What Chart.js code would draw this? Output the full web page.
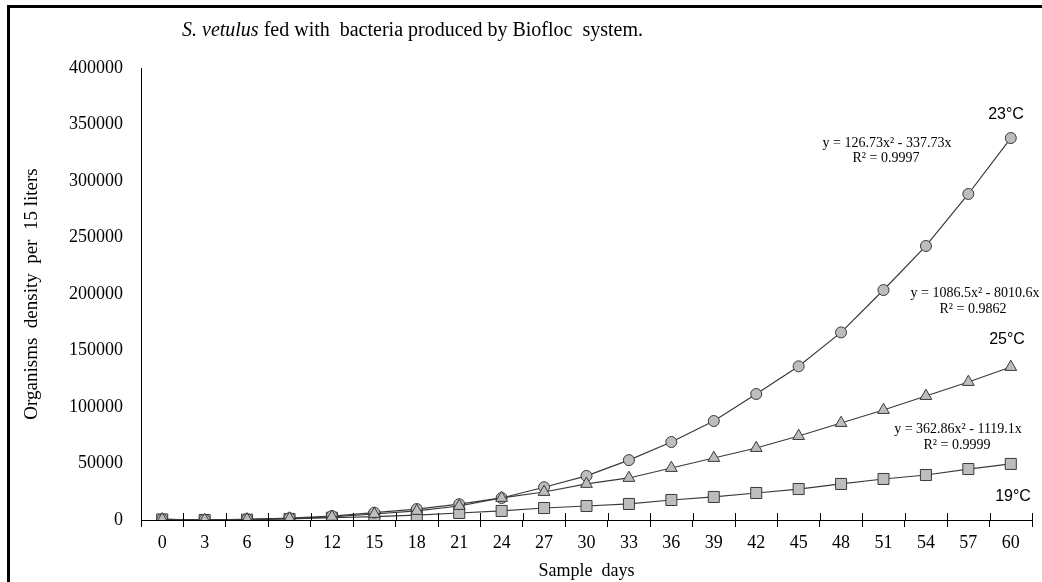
<!DOCTYPE html>
<html>
<head>
<meta charset="utf-8">
<script src="https://cdn.jsdelivr.net/npm/chart.js@4"></script>
<style>
  body { margin: 0; background: #fff; }
  #wrap { position: relative; width: 1042px; height: 582px; overflow: hidden; }
  #frame { position: absolute; left: 7px; top: 5px; width: 1100px; height: 700px;
           border-top: 3px solid #000; border-left: 3px solid #000; }
  canvas { position: absolute; left: 0; top: 0; }
</style>
</head>
<body>
<div id="wrap">
  <div id="frame"></div>
  <canvas id="densityChart" width="1042" height="582"></canvas>
</div>
<script>
// sample days (x axis categories)
const days = ['0','3','6','9','12','15','18','21','24','27','30','33','36','39','42','45','48','51','54','57','60'];

// organisms density per 15 liters
const temp23 = [500, 200, 600, 1600, 3500, 6500, 9700, 14000, 19500, 29000, 39000, 53000, 69000, 87600, 111500, 136000, 166000, 203500, 242500, 288500, 338000];
const temp25 = [500, 0, 500, 1300, 2800, 5300, 8000, 12400, 19500, 24800, 31900, 37200, 46000, 54900, 63700, 74300, 85800, 97300, 109700, 122100, 135400];
const temp19 = [500, 0, 300, 900, 2000, 3000, 4400, 6200, 8000, 10600, 12400, 14200, 17700, 20400, 23900, 27400, 31900, 36300, 39800, 45100, 49600];

const yTicks = [0, 50000, 100000, 150000, 200000, 250000, 300000, 350000, 400000];

const serif = "'Liberation Serif', 'Times New Roman', serif";
const sans = "'Liberation Sans', Arial, sans-serif";

// texts drawn on top of the chart: title, temperatures and fitted equations
const textPlugin = {
    id: 'texts',
    afterDraw(chart) {
        const ctx = chart.ctx;
        const x = chart.scales.x;
        ctx.save();
        // cross tick marks above the x axis
        ctx.strokeStyle = '#000';
        ctx.lineWidth = 1;
        const step = x.width / days.length;
        for (let i = 0; i <= days.length; i++) {
            const px = Math.round(x.left + i * step) + 0.5;
            ctx.beginPath();
            ctx.moveTo(px, x.top - 7);
            ctx.lineTo(px, x.top);
            ctx.stroke();
        }

        ctx.fillStyle = '#000';
        ctx.textBaseline = 'alphabetic';
        ctx.textAlign = 'left';
        ctx.font = 'italic 20px ' + serif;
        const part1 = 'S. vetulus';
        ctx.fillText(part1, 182, 36);
        const w = ctx.measureText(part1).width;
        ctx.font = '20px ' + serif;
        ctx.fillText(' fed with  bacteria produced by Biofloc  system.', 182 + w, 36);

        ctx.textAlign = 'center';
        ctx.textBaseline = 'middle';
        ctx.font = '16px ' + sans;
        ctx.fillText('23°C', 1006, 115);
        ctx.fillText('25°C', 1007, 340);
        ctx.fillText('19°C', 1013, 497);

        ctx.font = '14px ' + serif;
        ctx.fillText('y = 126.73x² - 337.73x', 887, 143);
        ctx.fillText('R² = 0.9997', 886, 158);
        ctx.fillText('y = 1086.5x² - 8010.6x', 975, 293);
        ctx.fillText('R² = 0.9862', 973, 309);
        ctx.fillText('y = 362.86x² - 1119.1x', 958, 429);
        ctx.fillText('R² = 0.9999', 957, 445);
        ctx.restore();
    }
};

function makeSet(label, values, style, radius) {
    return {
        label: label,
        data: values,
        borderColor: '#3a3a3a',
        borderWidth: 1.2,
        backgroundColor: '#bdbdbd',
        pointStyle: style,
        pointRadius: radius,
        pointBorderColor: '#3a3a3a',
        pointBorderWidth: 1,
        pointBackgroundColor: '#bdbdbd',
        tension: 0,
        fill: false
    };
}

const ctx = document.getElementById('densityChart').getContext('2d');
const densityChart = new Chart(ctx, {
    type: 'line',
    data: {
        labels: days,
        datasets: [
            makeSet('25°C', temp25, 'triangle', 6.8),
            makeSet('23°C', temp23, 'circle', 5.5),
            makeSet('19°C', temp19, 'rect', 7.8)
        ]
    },
    options: {
        responsive: false,
        animation: false,
        layout: { padding: { top: 68, right: 10, left: 0, bottom: 0 } },
        plugins: {
            legend: { display: false },
            tooltip: { enabled: false }
        },
        scales: {
            x: {
                type: 'category',
                offset: true,
                grid: { offset: true, drawOnChartArea: false, drawTicks: true, tickLength: 7, color: '#000' },
                border: { color: '#000', width: 1 },
                ticks: { color: '#000', font: { family: serif, size: 18 }, padding: 5, maxRotation: 0, autoSkip: false },
                title: { display: true, text: 'Sample  days', color: '#000', font: { family: serif, size: 18 }, padding: { top: 0, bottom: 0 } },
                afterFit(scale) { scale.height = 62; }
            },
            y: {
                min: 0,
                max: 400000,
                afterBuildTicks(scale) { scale.ticks = yTicks.map(v => ({ value: v })); },
                grid: { display: false, drawTicks: false },
                border: { color: '#000', width: 1 },
                ticks: { color: '#000', font: { family: serif, size: 18 }, padding: 18, callback: v => String(v) },
                title: { display: true, text: 'Organisms  density  per  15 liters', color: '#000', font: { family: serif, size: 19 }, padding: { top: 21, bottom: 0 } },
                afterFit(scale) { scale.width = 141; }
            }
        }
    },
    plugins: [textPlugin]
});
</script>
</body>
</html>
